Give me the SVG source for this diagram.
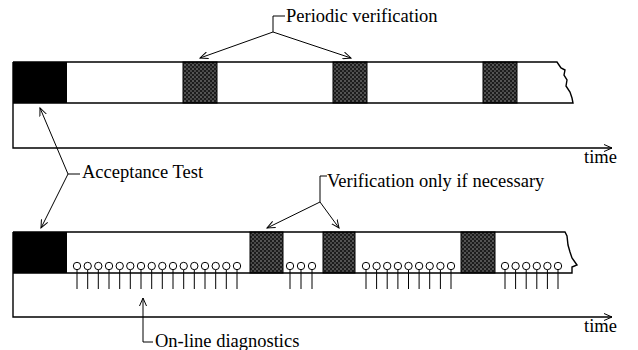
<svg xmlns="http://www.w3.org/2000/svg" width="638" height="350" viewBox="0 0 638 350">
<style>
.ln{fill:none;stroke:#000;stroke-width:1.4}
.thin{fill:none;stroke:#000;stroke-width:1}
.blk{fill:#000}
.gry{fill:url(#stip);stroke:#000;stroke-width:1}
.pin circle{fill:#fff;stroke:#000;stroke-width:1}
.pin line{stroke:#000;stroke-width:1}
</style>
<defs>
<pattern id="stip" width="4" height="4" patternUnits="userSpaceOnUse">
<rect width="4" height="4" fill="#1c1c1c"/>
<circle cx="1" cy="1" r="0.8" fill="#9a9a9a"/>
<circle cx="3" cy="3" r="0.8" fill="#808080"/>
</pattern>
<marker id="ah" markerWidth="10" markerHeight="8" refX="8" refY="4" orient="auto" markerUnits="userSpaceOnUse">
<path d="M0,0.5 L8,4 L0,7.5" fill="none" stroke="#000" stroke-width="1"/>
</marker>
<g id="pinT" class="pin"><line x1="0" y1="269.5" x2="0" y2="289"/><circle cx="0" cy="266" r="3.7"/></g>
</defs>

<g id="periodic-timeline">
<rect class="blk" x="13" y="62" width="54" height="41"/>
<rect class="gry" x="183" y="62" width="34" height="41"/>
<rect class="gry" x="333" y="62" width="34" height="41"/>
<rect class="gry" x="483" y="62" width="34" height="41"/>
<path class="ln" d="M13,62 L557,62 L559,65 L561,68 L565,70 L564,75 L567,80 L566,86 L570,92 L572,98 L573,103 L13,103"/>
<path class="ln" d="M13,62 L13,148 L612,148" marker-end="url(#ah)"/>
<text x="584" y="163" style="font-family:'Liberation Serif',serif;font-size:18.5px">time</text>
</g>

<g id="ondemand-timeline">
<rect class="blk" x="13" y="232" width="54" height="41"/>
<rect class="gry" x="250" y="232" width="33" height="41"/>
<rect class="gry" x="323" y="232" width="32" height="41"/>
<rect class="gry" x="461" y="232" width="34" height="41"/>
<path class="ln" d="M13,232 L565,232 L567,236 L568,245 L570,252 L572,258 L577,265 L572,267 L572,273 L13,273"/>
<path class="ln" d="M13,232 L13,317 L612,317" marker-end="url(#ah)"/>
<text x="584" y="332" style="font-family:'Liberation Serif',serif;font-size:18.5px">time</text>
</g>

<g id="online-diagnostics">
<use href="#pinT" x="77"/><use href="#pinT" x="87.7"/><use href="#pinT" x="98.3"/><use href="#pinT" x="109"/>
<use href="#pinT" x="119.7"/><use href="#pinT" x="130.3"/><use href="#pinT" x="141"/><use href="#pinT" x="151.7"/>
<use href="#pinT" x="162.3"/><use href="#pinT" x="173"/><use href="#pinT" x="183.7"/><use href="#pinT" x="194.3"/>
<use href="#pinT" x="205"/><use href="#pinT" x="215.7"/><use href="#pinT" x="226.3"/><use href="#pinT" x="237"/>
<use href="#pinT" x="290"/><use href="#pinT" x="301"/><use href="#pinT" x="312"/>
<use href="#pinT" x="366"/><use href="#pinT" x="376.6"/><use href="#pinT" x="387.2"/><use href="#pinT" x="397.9"/>
<use href="#pinT" x="408.5"/><use href="#pinT" x="419.1"/><use href="#pinT" x="429.7"/><use href="#pinT" x="440.4"/><use href="#pinT" x="451"/>
<use href="#pinT" x="505"/><use href="#pinT" x="515.6"/><use href="#pinT" x="526.2"/><use href="#pinT" x="536.8"/><use href="#pinT" x="547.4"/><use href="#pinT" x="558"/>
</g>

<g id="label-periodic"><text x="286" y="22" style="font-family:'Liberation Serif',serif;font-size:18.5px">Periodic verification</text></g>
<g id="label-acceptance"><text x="82" y="178" style="font-family:'Liberation Serif',serif;font-size:18.5px">Acceptance Test</text></g>
<g id="label-ifnecessary"><text x="327" y="187" style="font-family:'Liberation Serif',serif;font-size:18.5px">Verification only if necessary</text></g>
<g id="label-diagnostics"><text x="155" y="347" style="font-family:'Liberation Serif',serif;font-size:18.5px">On-line diagnostics</text></g>

<g id="connectors">
<path class="thin" d="M285,16 L273,16 L273,32"/>
<line class="thin" x1="273" y1="32" x2="200" y2="58" marker-end="url(#ah)"/>
<line class="thin" x1="273" y1="32" x2="351" y2="58" marker-end="url(#ah)"/>
<line class="thin" x1="68" y1="174" x2="80" y2="174"/>
<line class="thin" x1="68" y1="174" x2="40" y2="108" marker-end="url(#ah)"/>
<line class="thin" x1="68" y1="174" x2="41" y2="228" marker-end="url(#ah)"/>
<path class="thin" d="M327,176 L320,176 L320,202"/>
<line class="thin" x1="320" y1="202" x2="267" y2="228" marker-end="url(#ah)"/>
<line class="thin" x1="320" y1="202" x2="339" y2="228" marker-end="url(#ah)"/>
<path class="thin" d="M153,342 L143,342 L143,298" marker-end="url(#ah)"/>
</g>
</svg>
